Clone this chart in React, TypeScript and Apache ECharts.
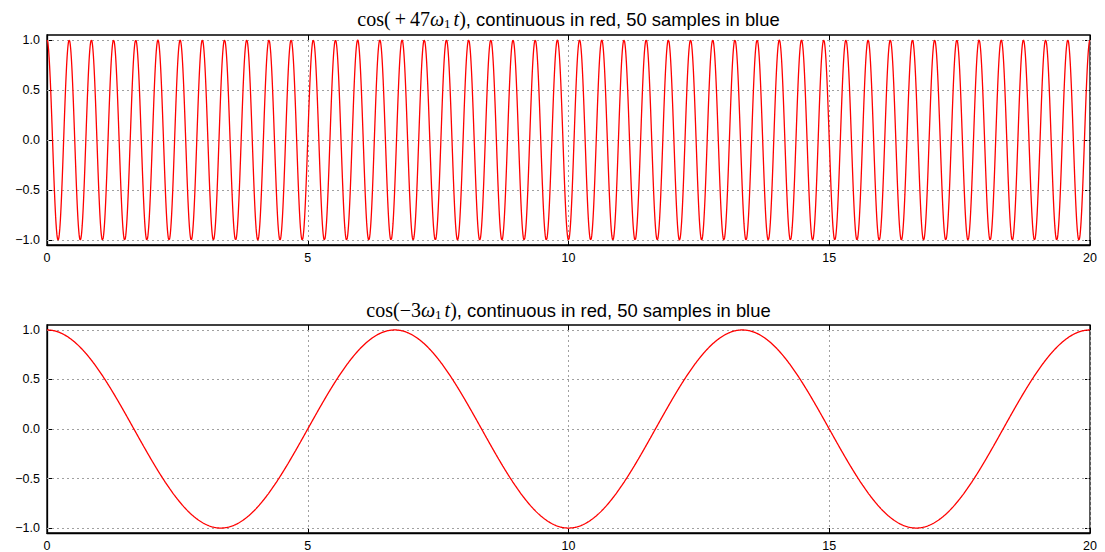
import React, { useEffect, useRef } from "react";
import * as echarts from "echarts";

// Time span of both plots and the fundamental period (ω1 = 2π / 20)
const T_START = 0;
const T_END = 20;
const FUNDAMENTAL_PERIOD = 20;
// Harmonic numbers named in the two titles
const harmonics = [47, -3];
const SAMPLE_COUNT = 4001;

const xTicks = [0, 5, 10, 15, 20];
const yTicks = [-1, -0.5, 0, 0.5, 1];

const titleMath = ["cos(\u2009+\u200947", "cos(−3"];
const titleRest = ", continuous in red, 50 samples in blue";

function buildCurve(k: number): number[][] {
  const pts: number[][] = [];
  const w1 = (2 * Math.PI) / FUNDAMENTAL_PERIOD;
  for (let n = 0; n < SAMPLE_COUNT; n++) {
    const t = T_START + ((T_END - T_START) * n) / (SAMPLE_COUNT - 1);
    pts.push([t, Math.cos(k * w1 * t)]);
  }
  return pts;
}

const SANS = "'Liberation Sans', Arial, sans-serif";
const SERIF = "'Liberation Serif', 'DejaVu Serif', serif";

export default function App() {
  const ref = useRef<HTMLDivElement | null>(null);

  useEffect(() => {
    if (!ref.current) return;
    const chart = echarts.init(ref.current, null, { renderer: "svg" });

    const grids = [
      { left: 47, top: 35, width: 1043, height: 210 },
      { left: 47, top: 325, width: 1043, height: 209 },
    ];
    const titleY = [19, 310];

    const fmtY = (v: number) => (v < 0 ? "−" : "") + Math.abs(v).toFixed(1);

    const xAxis: any[] = [];
    const yAxis: any[] = [];
    const series: any[] = [];
    const graphic: any[] = [];

    grids.forEach((g, i) => {
      xAxis.push({
        type: "value",
        gridIndex: i,
        position: "bottom",
        min: xTicks[0],
        max: xTicks[xTicks.length - 1],
        interval: 5,
        axisLine: { show: true, onZero: false, lineStyle: { color: "#000", width: 1.3 } },
        axisTick: { show: true, inside: true, length: 5, lineStyle: { color: "#000" } },
        axisLabel: {
          show: true,
          margin: 6,
          color: "#000",
          fontSize: 12.5,
          fontFamily: SANS,
          showMinLabel: true,
          showMaxLabel: true,
        },
        splitLine: { show: true, lineStyle: { color: "#a0a0a0", type: [2, 3], width: 1 } },
      });
      xAxis.push({
        type: "value",
        gridIndex: i,
        position: "top",
        min: xTicks[0],
        max: xTicks[xTicks.length - 1],
        interval: 5,
        axisLine: { show: false, onZero: false },
        axisTick: { show: true, inside: true, length: 5, lineStyle: { color: "#000" } },
        axisLabel: { show: false },
        splitLine: { show: false },
      });
      yAxis.push({
        type: "value",
        gridIndex: i,
        position: "left",
        min: -1.05,
        max: 1.05,
        axisLine: { show: true, onZero: false, lineStyle: { color: "#000", width: 1.3 } },
        axisTick: {
          show: true,
          inside: true,
          length: 5,
          customValues: yTicks,
          lineStyle: { color: "#000" },
        },
        axisLabel: {
          show: true,
          margin: 7,
          color: "#000",
          fontSize: 12.5,
          fontFamily: SANS,
          customValues: yTicks,
          formatter: fmtY,
        },
        splitLine: { show: false },
      });
      yAxis.push({
        type: "value",
        gridIndex: i,
        position: "right",
        min: -1.05,
        max: 1.05,
        axisLine: { show: false, onZero: false },
        axisTick: {
          show: true,
          inside: true,
          length: 5,
          customValues: yTicks,
          lineStyle: { color: "#000" },
        },
        axisLabel: { show: false },
        splitLine: { show: false },
      });

      series.push({
        type: "line",
        xAxisIndex: i * 2,
        yAxisIndex: i * 2,
        data: buildCurve(harmonics[i]),
        showSymbol: false,
        symbol: "none",
        clip: false,
        z: 3,
        lineStyle: { color: "#ff0000", width: 1.3 },
        silent: true,
        markLine: {
          silent: true,
          symbol: "none",
          z: 1,
          label: { show: false },
          lineStyle: { color: "#a0a0a0", type: [2, 3], width: 1 },
          emphasis: { disabled: true },
          data: yTicks.map((v) => ({ yAxis: v })),
        },
      });

      graphic.push({
        type: "text",
        x: g.left + g.width / 2,
        y: titleY[i],
        silent: true,
        style: {
          text:
            "{m|" + titleMath[i] + "}{i|ω}{s|1}{i|t}{m|)}{n|" + titleRest + "}",
          textAlign: "center",
          textVerticalAlign: "middle",
          rich: {
            m: { fontFamily: SERIF, fontSize: 20, fill: "#000", lineHeight: 22 },
            i: { fontFamily: SERIF, fontSize: 20, fontStyle: "italic", fill: "#000", lineHeight: 22 },
            s: { fontFamily: SERIF, fontSize: 13, fill: "#000", lineHeight: 14, verticalAlign: "bottom", padding: [0, 3, 0, 0] },
            n: { fontFamily: SANS, fontSize: 18.4, fill: "#000", lineHeight: 22 },
          },
        },
      });
    });

    chart.setOption({
      animation: false,
      backgroundColor: "#ffffff",
      grid: grids.map((g) => ({
        ...g,
        show: true,
        borderColor: "#000",
        borderWidth: 1.3,
        backgroundColor: "transparent",
      })),
      xAxis,
      yAxis,
      series,
      graphic,
    });

    return () => chart.dispose();
  }, []);

  return (
    <div
      ref={ref}
      style={{ position: "fixed", left: 0, top: 0, width: 1105, height: 552 }}
    />
  );
}
